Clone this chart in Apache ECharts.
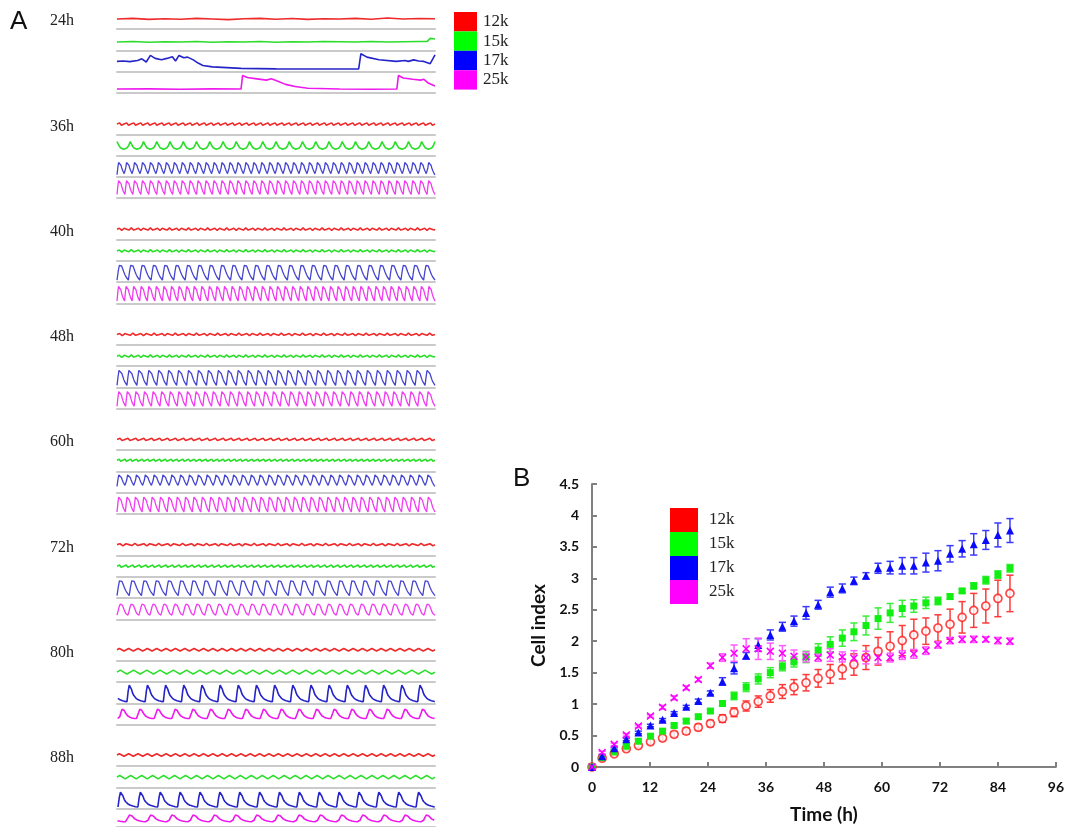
<!DOCTYPE html>
<html><head><meta charset="utf-8">
<script src="https://cdn.jsdelivr.net/npm/echarts@6/dist/echarts.min.js"></script>
<style>html,body{margin:0;padding:0;background:#fff}#c{width:1067px;height:827px}</style>
</head><body><div id="c"></div><script>
// ---------------- DATA ----------------
const seriesNames = ['12k', '15k', '17k', '25k'];
const blockLabels = ['24h', '36h', '40h', '48h', '60h', '72h', '80h', '88h'];

// Panel A, 24h: traces read point by point (x = fraction of trace width, y = fraction of row)
const red24 = [[0,0.47],[0.05,0.5],[0.1,0.45],[0.15,0.48],[0.2,0.46],[0.25,0.5],[0.3,0.47],[0.35,0.44],[0.4,0.48],[0.45,0.5],[0.5,0.46],[0.55,0.49],[0.6,0.45],[0.65,0.48],[0.7,0.47],[0.75,0.5],[0.8,0.46],[0.85,0.52],[0.9,0.47],[0.95,0.49],[1,0.48]];
const green24 = [[0,0.39],[0.05,0.41],[0.1,0.38],[0.15,0.4],[0.2,0.39],[0.25,0.41],[0.3,0.38],[0.35,0.4],[0.4,0.39],[0.45,0.41],[0.5,0.38],[0.55,0.4],[0.6,0.39],[0.65,0.41],[0.7,0.4],[0.75,0.39],[0.8,0.41],[0.85,0.39],[0.9,0.4],[0.95,0.41],[0.975,0.41],[0.985,0.56],[1,0.53]];
const blue24 = [[0,0.48],[0.02,0.5],[0.04,0.47],[0.065,0.52],[0.078,0.6],[0.092,0.45],[0.105,0.76],[0.12,0.62],[0.14,0.56],[0.157,0.62],[0.174,0.7],[0.184,0.5],[0.195,0.76],[0.21,0.65],[0.222,0.68],[0.24,0.55],[0.255,0.4],[0.27,0.29],[0.3,0.22],[0.39,0.15],[0.5,0.13],[0.61,0.12],[0.716,0.12],[0.76,0.13],[0.767,0.84],[0.786,0.68],[0.824,0.56],[0.878,0.48],[0.906,0.52],[0.916,0.48],[0.933,0.55],[0.949,0.5],[0.965,0.48],[0.985,0.37],[1,0.78]];
const magenta24 = [[0,0.18],[0.1,0.19],[0.2,0.17],[0.3,0.19],[0.39,0.18],[0.395,0.82],[0.41,0.72],[0.44,0.66],[0.47,0.6],[0.485,0.66],[0.5,0.58],[0.53,0.4],[0.56,0.3],[0.6,0.22],[0.7,0.18],[0.8,0.17],[0.88,0.18],[0.885,0.82],[0.9,0.7],[0.93,0.64],[0.955,0.6],[0.965,0.64],[0.98,0.45],[1,0.32]];

// one beat of each waveform kind (fraction of the trace swing)
const shapeWiggle = [0.5, 0.85, 1, 0.85, 0.5, 0.15, 0, 0.15];
const shapeCup = [1, 0.55, 0.2, 0.04, 0, 0.04, 0.15, 0.45];
const shapeSaw = [0, 0.5, 0.9, 1, 0.88, 0.7, 0.5, 0.33, 0.19, 0.08];
const shapeHump = [0, 0.35, 0.75, 0.97, 1, 0.85, 0.6, 0.35, 0.15, 0.04];
const shapeSpike = [0, 0.6, 0.97, 1, 0.72, 0.5, 0.36, 0.27, 0.2, 0.15, 0.11, 0.08, 0.06, 0.04, 0.02, 0];
const shapeBump = [0, 0.2, 0.62, 0.95, 1, 0.82, 0.58, 0.4, 0.28, 0.2, 0.14, 0.09, 0.06, 0.03, 0.01, 0];

// [shape, beats across trace, low level, high level, starting phase] per trace (12k,15k,17k,25k)
const traces36h = [['wiggle',45,0.4,0.56,0], ['cup',24,0.3,0.66,0], ['saw',40,0.1,0.74,0], ['saw',40,0.18,0.9,0]];
const traces40h = [['wiggle',50,0.43,0.55,0], ['wiggle',50,0.41,0.53,0], ['saw',28,0.1,0.86,0], ['saw',42,0.12,0.88,0]];
const traces48h = [['wiggle',45,0.43,0.55,0], ['wiggle',50,0.41,0.53,0], ['saw',32,0.1,0.88,0], ['saw',37,0.12,0.88,0]];
const traces60h = [['wiggle',40,0.43,0.58,0], ['wiggle',55,0.46,0.6,0], ['saw',36,0.3,0.9,0], ['saw',38,0.1,0.88,0]];
const traces72h = [['wiggle',40,0.45,0.57,0], ['wiggle',48,0.43,0.57,0], ['saw',26,0.12,0.88,0], ['hump',29,0.2,0.74,0]];
const traces80h = [['wiggle',34,0.46,0.58,0], ['wiggle',24,0.38,0.56,0], ['spike',17.5,0.08,0.88,0.45], ['bump',18,0.29,0.75,0.9]];
const traces88h = [['wiggle',34,0.46,0.58,0], ['wiggle',29,0.4,0.56,0], ['spike',16,0.08,0.8,0.95], ['bump',15,0.29,0.67,0.6]];

// Panel B
const timeH = [0, 2.1, 4.6, 7.1, 9.6, 12.1, 14.6, 17.0, 19.5, 22.0, 24.5, 27.0, 29.4, 31.9, 34.4, 36.9, 39.4, 41.8, 44.3, 46.8, 49.3, 51.8, 54.2, 56.7, 59.2, 61.7, 64.2, 66.6, 69.1, 71.6, 74.1, 76.6, 79.0, 81.5, 84.0, 86.5];
const ci12k = [0, 0.14, 0.21, 0.29, 0.34, 0.40, 0.46, 0.52, 0.57, 0.63, 0.69, 0.77, 0.87, 0.97, 1.04, 1.13, 1.20, 1.27, 1.34, 1.41, 1.48, 1.56, 1.63, 1.74, 1.84, 1.92, 2.01, 2.10, 2.16, 2.21, 2.27, 2.38, 2.49, 2.56, 2.68, 2.76];
const err12k = [0, 0.02, 0.02, 0.03, 0.03, 0.04, 0.04, 0.04, 0.05, 0.05, 0.05, 0.06, 0.07, 0.08, 0.09, 0.10, 0.11, 0.12, 0.13, 0.14, 0.15, 0.16, 0.17, 0.19, 0.22, 0.23, 0.24, 0.25, 0.21, 0.21, 0.24, 0.25, 0.27, 0.27, 0.29, 0.29];
const ci15k = [0, 0.15, 0.24, 0.33, 0.41, 0.49, 0.57, 0.66, 0.73, 0.80, 0.89, 1.01, 1.13, 1.27, 1.40, 1.50, 1.60, 1.67, 1.75, 1.86, 1.95, 2.05, 2.15, 2.25, 2.36, 2.45, 2.52, 2.56, 2.61, 2.64, 2.71, 2.80, 2.88, 2.97, 3.06, 3.16];
const err15k = [0, 0.02, 0.02, 0.02, 0.03, 0.03, 0.03, 0.03, 0.03, 0.03, 0.03, 0.04, 0.06, 0.07, 0.08, 0.08, 0.07, 0.08, 0.09, 0.10, 0.12, 0.13, 0.14, 0.15, 0.17, 0.15, 0.13, 0.10, 0.09, 0.06, 0.04, 0.03, 0.05, 0.06, 0.06, 0.06];
const ci17k = [0, 0.17, 0.30, 0.44, 0.55, 0.66, 0.75, 0.86, 0.96, 1.05, 1.18, 1.36, 1.57, 1.77, 1.94, 2.10, 2.23, 2.32, 2.45, 2.58, 2.78, 2.84, 2.96, 3.04, 3.16, 3.17, 3.20, 3.20, 3.25, 3.28, 3.39, 3.47, 3.54, 3.61, 3.69, 3.76];
const err17k = [0, 0.02, 0.02, 0.02, 0.02, 0.02, 0.02, 0.02, 0.02, 0.03, 0.03, 0.06, 0.09, 0.05, 0.10, 0.08, 0.07, 0.08, 0.10, 0.07, 0.08, 0.07, 0.06, 0.05, 0.08, 0.10, 0.13, 0.13, 0.15, 0.16, 0.13, 0.13, 0.17, 0.15, 0.19, 0.19];
const ci25k = [0, 0.23, 0.36, 0.51, 0.65, 0.81, 0.95, 1.10, 1.26, 1.39, 1.61, 1.74, 1.81, 1.88, 1.88, 1.84, 1.81, 1.76, 1.75, 1.74, 1.78, 1.75, 1.73, 1.74, 1.74, 1.74, 1.78, 1.80, 1.85, 1.94, 2.01, 2.03, 2.03, 2.03, 2.01, 2.00];
const err25k = [0, 0.02, 0.02, 0.02, 0.02, 0.02, 0.03, 0.03, 0.03, 0.03, 0.04, 0.06, 0.13, 0.16, 0.17, 0.13, 0.12, 0.10, 0.08, 0.06, 0.10, 0.08, 0.12, 0.10, 0.10, 0.07, 0.07, 0.07, 0.06, 0.05, 0.05, 0.05, 0.05, 0.04, 0.05, 0.05];

// ---------------- BUILD ----------------
const shapes = {wiggle: shapeWiggle, cup: shapeCup, saw: shapeSaw, hump: shapeHump, spike: shapeSpike, bump: shapeBump};
function tile(spec) {
  const [name, n, lo, hi, phase] = spec;
  const s = shapes[name], L = s.length, out = [];
  for (let b = 0; b <= Math.ceil(n) + 1; b++) {
    for (let j = 0; j < L; j++) {
      const x = (b + j / L - phase) / n;
      if (x < 0) continue;
      if (x > 1) return out;
      out.push([x, lo + (hi - lo) * s[j]]);
    }
  }
  return out;
}
const blockTraces = [
  [red24, green24, blue24, magenta24],
  traces36h.map(tile), traces40h.map(tile), traces48h.map(tile),
  traces60h.map(tile), traces72h.map(tile), traces80h.map(tile), traces88h.map(tile)
];

const legendColors = ['#ff0000', '#00ff00', '#0000ff', '#ff00ff'];
const colorsA = ['#ee2a2a', '#2ade2a', '#2424c8', '#ee18ee'];
const colorsB = ['#ff1a1a', '#11ee11', '#0a0aff', '#ff00ff'];
const errColorsB = ['#ff3a3a', '#3aee3a', '#3a3aff', '#ff5cff'];

const rowH = 21.3, blockStep = 105.3, firstLine = 29, traceLeft = 117, traceWidth = 318;
const grids = [], xAxes = [], yAxes = [], series = [], graphics = [];

blockTraces.forEach((traces, k) => {
  const line0 = firstLine + blockStep * k;
  graphics.push({type: 'text', left: 50, top: line0 - 16,
    style: {text: blockLabels[k], font: '16px "Liberation Serif", serif', fill: '#222'}});
  traces.forEach((data, r) => {
    const gi = grids.length;
    const bottom = line0 + rowH * r;
    grids.push({left: traceLeft, width: traceWidth, top: bottom - rowH, height: rowH});
    xAxes.push({type: 'value', gridIndex: gi, min: 0, max: 1,
      axisLine: {show: true, lineStyle: {color: '#cacaca', width: 2}},
      axisTick: {show: false}, axisLabel: {show: false}, splitLine: {show: false}});
    yAxes.push({type: 'value', gridIndex: gi, min: 0, max: 1, show: false, splitLine: {show: false}});
    const fine = k > 0 && k < 6 && r >= 2;
    series.push({type: 'line', name: seriesNames[r], xAxisIndex: gi, yAxisIndex: gi, data,
      symbol: 'none', showSymbol: false, clip: false, silent: true,
      lineStyle: {color: colorsA[r], width: fine ? 1.3 : 1.6, opacity: fine ? 0.85 : 1},
      itemStyle: {color: colorsA[r]}});
  });
});

// Panel B
const gB = grids.length;
grids.push({left: 592, top: 484, width: 465, height: 283});
const axisGrey = '#808080';
const labelFont = {color: '#111', fontFamily: 'Lato', fontWeight: 'bold', fontSize: 14};
xAxes.push({type: 'value', gridIndex: gB, min: 0, max: 96, interval: 12,
  axisLine: {show: true, lineStyle: {color: axisGrey, width: 2}},
  axisTick: {show: true, inside: true, length: 5, lineStyle: {color: axisGrey, width: 2}},
  axisLabel: Object.assign({margin: 13}, labelFont), splitLine: {show: false},
  name: 'Time (h)', nameLocation: 'middle', nameGap: 38,
  nameTextStyle: {color: '#111', fontFamily: 'Lato', fontWeight: 'bold', fontSize: 19}});
yAxes.push({type: 'value', gridIndex: gB, min: 0, max: 4.5, interval: 0.5,
  axisLine: {show: true, lineStyle: {color: axisGrey, width: 2}},
  axisTick: {show: true, inside: true, length: 5, lineStyle: {color: axisGrey, width: 2}},
  axisLabel: Object.assign({margin: 13}, labelFont), splitLine: {show: false},
  name: 'Cell index', nameLocation: 'middle', nameGap: 44,
  nameTextStyle: {color: '#111', fontFamily: 'Lato', fontWeight: 'bold', fontSize: 19}});

const valsB = [ci12k, ci15k, ci17k, ci25k];
const errsB = [err12k, err15k, err17k, err25k];
const symbolsB = ['circle', 'rect', 'triangle',
  'path://M0,1.4L1.4,0L5,3.6L8.6,0L10,1.4L6.4,5L10,8.6L8.6,10L5,6.4L1.4,10L0,8.6L3.6,5Z'];
const sizesB = [8, 7, 8, 8];

valsB.forEach((vals, s) => {
  const col = errColorsB[s];
  series.push({type: 'custom', name: seriesNames[s], xAxisIndex: gB, yAxisIndex: gB, z: 2, silent: true,
    data: timeH.map((t, i) => [t, vals[i], errsB[s][i]]),
    renderItem: (params, api) => {
      const x = api.value(0), y = api.value(1), e = api.value(2);
      if (!(e > 0)) return null;
      const top = api.coord([x, y + e]), bot = api.coord([x, y - e]), w = 3.6;
      const st = {stroke: col, lineWidth: 1.5};
      return {type: 'group', children: [
        {type: 'line', shape: {x1: top[0], y1: top[1], x2: bot[0], y2: bot[1]}, style: st},
        {type: 'line', shape: {x1: top[0] - w, y1: top[1], x2: top[0] + w, y2: top[1]}, style: st},
        {type: 'line', shape: {x1: bot[0] - w, y1: bot[1], x2: bot[0] + w, y2: bot[1]}, style: st}
      ]};
    }});
});
valsB.forEach((vals, s) => {
  const isz = s === 0;
  series.push({type: 'scatter', name: seriesNames[s], xAxisIndex: gB, yAxisIndex: gB, z: 3 + s,
    data: timeH.map((t, i) => [t, vals[i]]),
    symbol: symbolsB[s], symbolSize: sizesB[s],
    itemStyle: isz ? {color: '#ffffff', borderColor: colorsB[0], borderWidth: 1.7}
                   : {color: colorsB[s], opacity: 1}});
});

graphics.push({type: 'text', left: 10, top: 9, style: {text: 'A', font: '26px "Liberation Sans", Arial, sans-serif', fill: '#111'}});
graphics.push({type: 'text', left: 513, top: 466, style: {text: 'B', font: '26px "Liberation Sans", Arial, sans-serif', fill: '#111'}});

const legendData = seriesNames.map((n, i) => ({name: n, icon: 'rect', itemStyle: {color: legendColors[i], borderWidth: 0, opacity: 1}}));
const option = {
  animation: false,
  backgroundColor: '#ffffff',
  grid: grids, xAxis: xAxes, yAxis: yAxes, series,
  legend: [
    {orient: 'vertical', left: 454, top: 12, itemWidth: 23, itemHeight: 19.4, itemGap: 0, padding: 0,
      selectedMode: false, data: legendData,
      textStyle: {fontFamily: '"Liberation Serif", serif', fontSize: 17, color: '#222', padding: [0, 0, 0, 1]}},
    {orient: 'vertical', left: 670, top: 508, itemWidth: 28, itemHeight: 24, itemGap: 0, padding: 0,
      selectedMode: false, data: legendData,
      textStyle: {fontFamily: '"Liberation Serif", serif', fontSize: 17, color: '#222', padding: [0, 0, 0, 6]}}
  ],
  graphic: graphics
};
const chart = echarts.init(document.getElementById('c'));
chart.setOption(option);
</script></body></html>
